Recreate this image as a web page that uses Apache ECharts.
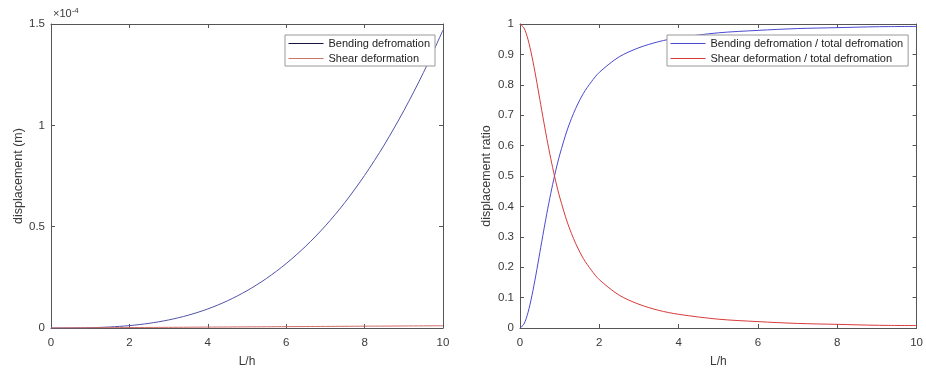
<!DOCTYPE html>
<html>
<head>
<meta charset="utf-8">
<script src="https://cdn.jsdelivr.net/npm/echarts@6/dist/echarts.min.js"></script>
<style>html,body{margin:0;padding:0;background:#fff}#c{width:926px;height:373px}</style>
</head>
<body>
<div id="c"></div>
<script>
// Left chart: displacement (x 1e-4 m) vs L/h
var leftX = [0,0.5,1,1.5,2,2.5,3,3.5,4,4.5,5,5.5,6,6.5,7,7.5,8,8.5,9,9.5,10];
var bendingDisp = [0,0.0002,0.0015,0.005,0.0118,0.023,0.0397,0.063,0.094,0.134,0.184,0.245,0.318,0.404,0.504,0.620,0.753,0.903,1.072,1.260,1.47];
var shearDisp = [0,0.0006,0.0011,0.0017,0.0022,0.0028,0.0033,0.0039,0.0045,0.005,0.0056,0.0061,0.0067,0.0072,0.0078,0.0083,0.009,0.0094,0.0100,0.0105,0.011];
// Right chart: displacement ratio vs L/h
var rightX = [0,0.1,0.2,0.3,0.4,0.5,0.6,0.7,0.8,0.9,1.0,1.2,1.4,1.6,1.8,2.0,2.5,3,3.5,4,5,6,7,8,9,10];
var bendingRatio = [0,0.013,0.050,0.106,0.174,0.248,0.322,0.393,0.458,0.517,0.569,0.655,0.721,0.772,0.810,0.841,0.892,0.922,0.942,0.955,0.971,0.979,0.985,0.988,0.991,0.992];
var shearRatio = [1,0.987,0.950,0.894,0.826,0.752,0.678,0.607,0.542,0.483,0.431,0.345,0.279,0.228,0.190,0.159,0.108,0.078,0.058,0.045,0.029,0.021,0.015,0.012,0.009,0.008];
var xTicks = {min:0, max:10, interval:2};
var leftYTicks = {min:0, max:1.5, interval:0.5};
var rightYTicks = {min:0, max:1, interval:0.1};

function pairs(xs, ys){ return xs.map(function(x,i){return [x, ys[i]];}); }

var FONT = 'Liberation Sans, Arial, sans-serif';
var AX = '#555555';
var LBL = '#3a3a3a';

function line(){ return {show:true,onZero:false,lineStyle:{color:AX,width:1}}; }
function tick(){ return {show:true,inside:true,length:4,lineStyle:{color:AX}}; }

function bottomX(gi){
  return {type:'value', gridIndex:gi, min:xTicks.min, max:xTicks.max, interval:xTicks.interval,
    name:'L/h', nameLocation:'middle', nameGap:28, nameTextStyle:{fontFamily:FONT,fontSize:12,color:LBL},
    axisLine:line(), axisTick:tick(),
    axisLabel:{fontFamily:FONT,fontSize:11.5,color:LBL,margin:9}, splitLine:{show:false}};
}
function topX(gi){
  return {type:'value', gridIndex:gi, position:'top', min:xTicks.min, max:xTicks.max, interval:xTicks.interval,
    axisLine:line(), axisTick:tick(), axisLabel:{show:false}, splitLine:{show:false}};
}
function leftY(gi, t, name, gap){
  return {type:'value', gridIndex:gi, position:'left', min:t.min, max:t.max, interval:t.interval,
    name:name, nameLocation:'middle', nameGap:gap, nameTextStyle:{fontFamily:FONT,fontSize:12.5,color:LBL},
    axisLine:line(), axisTick:tick(),
    axisLabel:{fontFamily:FONT,fontSize:11.5,color:LBL,margin:6}, splitLine:{show:false}};
}
function rightY(gi, t){
  return {type:'value', gridIndex:gi, position:'right', min:t.min, max:t.max, interval:t.interval,
    axisLine:line(), axisTick:tick(), axisLabel:{show:false}, splitLine:{show:false}};
}

function legendAt(left, top, names, colors){
  return {left:left, top:top, orient:'vertical', itemGap:4, itemWidth:35, itemHeight:12,
    itemStyle:{opacity:0},
    padding:[3,5,2,3], backgroundColor:'#fff', borderColor:'#999', borderWidth:1, borderRadius:0,
    textStyle:{fontFamily:FONT,fontSize:11,color:'#222'},
    data:names.map(function(n,i){ return {name:n, itemStyle:{opacity:0}, lineStyle:{color:colors[i], width:1, opacity:1}}; })};
}

var chart = echarts.init(document.getElementById('c'), null, {renderer:'canvas'});
chart.setOption({
  backgroundColor:'#ffffff',
  animation:false,
  grid:[
    {left:51, top:24, width:392, height:309},
    {left:520, top:24, width:399, height:309}
  ],
  xAxis:[bottomX(0), bottomX(1), topX(0), topX(1)],
  yAxis:[leftY(0, leftYTicks, 'displacement (m)', 25), leftY(1, rightYTicks, 'displacement ratio', 27), rightY(0, leftYTicks), rightY(1, rightYTicks)],
  graphic:[{type:'text', left:53, top:7, style:{rich:{a:{fontFamily:FONT,fontSize:11,fill:LBL},s:{fontFamily:FONT,fontSize:8,fill:LBL,verticalAlign:'top',padding:[0,0,6,0]}}, text:'{a|×10}{s|-4}'}}],
  legend:[
    legendAt(285, 35, ['Bending defromation','Shear deformation'], ['#14143c','#c8786c']),
    legendAt(667, 35, ['Bending defromation / total defromation','Shear deformation / total defromation'], ['#4a4ad0','#d83a3a'])
  ],
  series:[
    {name:'Bending defromation', type:'line', xAxisIndex:0, yAxisIndex:0, data:pairs(leftX, bendingDisp), smooth:0.3, symbol:'none', color:'#5252aa', lineStyle:{width:1,color:'#5252aa'}},
    {name:'Shear deformation', type:'line', xAxisIndex:0, yAxisIndex:0, data:pairs(leftX, shearDisp), smooth:0.3, symbol:'none', color:'#d06a66', lineStyle:{width:1,color:'#d06a66'}},
    {name:'Bending defromation / total defromation', type:'line', xAxisIndex:1, yAxisIndex:1, data:pairs(rightX, bendingRatio), smooth:0.3, symbol:'none', color:'#4a4ad0', lineStyle:{width:1,color:'#4a4ad0'}},
    {name:'Shear deformation / total defromation', type:'line', xAxisIndex:1, yAxisIndex:1, data:pairs(rightX, shearRatio), smooth:0.3, symbol:'none', color:'#d83a3a', lineStyle:{width:1,color:'#d83a3a'}}
  ]
});
</script>
</body>
</html>
